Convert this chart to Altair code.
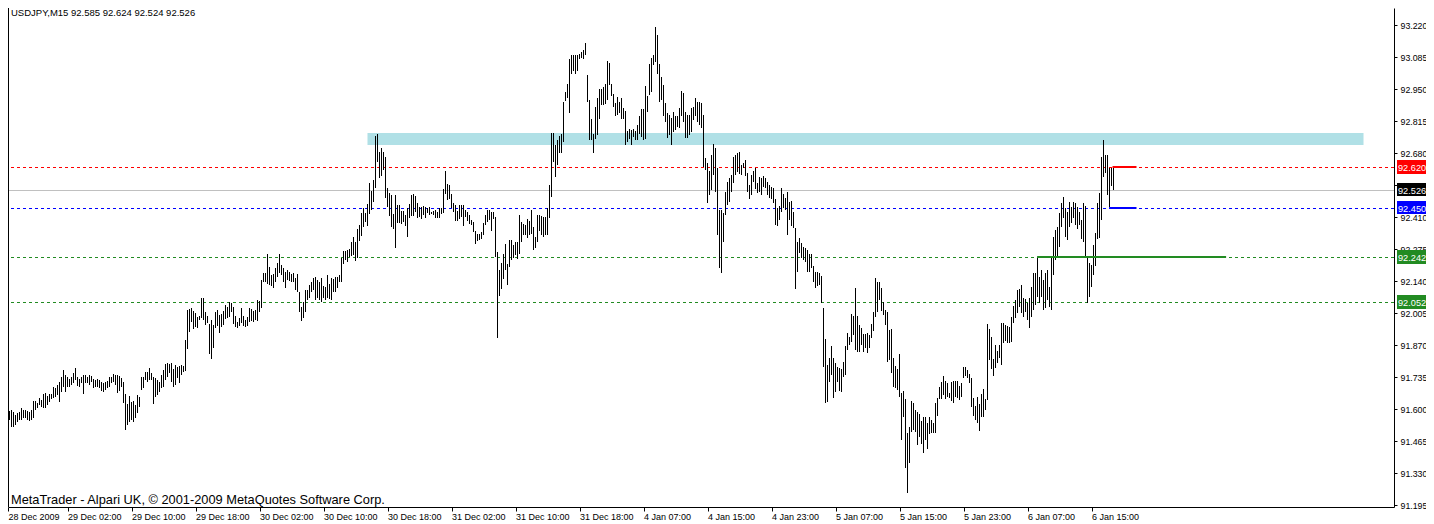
import altair as alt
import pandas as pd

# ---------------- data (USDJPY M15 bars, high/low) ----------------
HIGH_A = [
    91.586, 91.586, 91.589, 91.593, 91.596, 91.589, 91.575, 91.582, 91.589, 91.603,
    91.596, 91.596, 91.593, 91.589, 91.596, 91.634, 91.634, 91.624, 91.645, 91.638,
    91.663, 91.669, 91.655, 91.663, 91.663, 91.694, 91.687, 91.701, 91.715, 91.736,
    91.765, 91.743, 91.736, 91.725, 91.734, 91.750, 91.772, 91.736, 91.725, 91.736,
    91.743, 91.743, 91.736, 91.743, 91.739, 91.725, 91.722, 91.725, 91.722, 91.715,
    91.711, 91.715, 91.720, 91.734, 91.736, 91.748, 91.743, 91.743, 91.739, 91.729,
    91.715, 91.663, 91.621, 91.655, 91.631, 91.635, 91.617, 91.659, 91.652, 91.736,
    91.736, 91.758, 91.758, 91.773, 91.753, 91.736, 91.729, 91.722, 91.714, 91.743,
    91.765, 91.790, 91.795, 91.790, 91.793, 91.767, 91.786, 91.776, 91.781, 91.786,
    91.781, 91.891, 92.018, 92.020, 92.025, 92.012, 92.004, 91.987, 91.992, 92.067,
    92.067, 92.011, 91.992, 91.959, 91.975, 91.954, 92.011, 92.018, 91.997, 92.001, 92.015,
]
LOW_A = [
    91.547, 91.554, 91.556, 91.554, 91.523, 91.523, 91.533, 91.547, 91.554, 91.554,
    91.561, 91.561, 91.554, 91.551, 91.554, 91.561, 91.596, 91.603, 91.617, 91.610,
    91.603, 91.603, 91.617, 91.631, 91.641, 91.645, 91.652, 91.659, 91.631, 91.673,
    91.694, 91.673, 91.694, 91.694, 91.701, 91.711, 91.722, 91.697, 91.694, 91.708,
    91.663, 91.708, 91.708, 91.701, 91.715, 91.687, 91.694, 91.694, 91.687, 91.677,
    91.673, 91.680, 91.687, 91.694, 91.708, 91.715, 91.701, 91.666, 91.677, 91.694,
    91.624, 91.511, 91.533, 91.547, 91.554, 91.547, 91.561, 91.582, 91.610, 91.680,
    91.687, 91.722, 91.715, 91.722, 91.722, 91.621, 91.652, 91.659, 91.673, 91.687,
    91.694, 91.722, 91.736, 91.750, 91.715, 91.694, 91.701, 91.729, 91.708, 91.743,
    91.758, 91.762, 91.852, 91.926, 91.968, 91.936, 91.945, 91.940, 91.975, 91.983,
    91.975, 91.954, 91.964, 91.832, 91.810, 91.856, 91.940, 91.950, 91.922, 91.945, 91.954,
]

HIGH_B = [
    92.039, 92.032, 92.050, 92.046, 92.032, 91.994, 91.968, 91.982, 92.027, 91.994,
    91.975, 91.989, 92.025, 92.022, 92.013, 92.018, 92.060, 92.055, 92.144, 92.172,
    92.172, 92.252, 92.200, 92.165, 92.168, 92.193, 92.214, 92.252, 92.207, 92.193,
    92.179, 92.186, 92.179, 92.168, 92.172, 92.151, 92.168, 92.095, 92.032, 92.053,
    92.102, 92.102, 92.123, 92.134, 92.151, 92.158, 92.144, 92.137, 92.154, 92.117,
    92.116, 92.165, 92.126, 92.154, 92.148, 92.158, 92.158, 92.165, 92.238, 92.266,
    92.266, 92.271, 92.275, 92.306, 92.327, 92.306, 92.359, 92.376, 92.425, 92.446,
    92.425, 92.463, 92.552, 92.520, 92.566, 92.753, 92.760, 92.683, 92.702, 92.683,
    92.662, 92.534, 92.510, 92.503, 92.421, 92.503, 92.460, 92.460, 92.435, 92.435,
    92.418, 92.449, 92.463, 92.503, 92.505, 92.500, 92.467, 92.453, 92.453, 92.458,
    92.453, 92.449, 92.453, 92.430, 92.435, 92.439, 92.432, 92.446, 92.446, 92.528,
]
LOW_B = [
    91.980, 91.982, 91.989, 92.011, 91.957, 91.945, 91.940, 91.950, 91.961, 91.950,
    91.945, 91.950, 91.968, 91.971, 91.968, 91.975, 91.971, 92.011, 92.027, 92.134,
    92.134, 92.126, 92.123, 92.120, 92.109, 92.137, 92.158, 92.172, 92.165, 92.137,
    92.109, 92.144, 92.140, 92.134, 92.137, 92.102, 92.095, 92.011, 91.971, 91.982,
    92.008, 92.060, 92.067, 92.095, 92.102, 92.060, 92.067, 92.060, 92.053, 92.067,
    92.060, 92.067, 92.064, 92.060, 92.095, 92.095, 92.112, 92.137, 92.137, 92.210,
    92.228, 92.221, 92.243, 92.247, 92.250, 92.224, 92.238, 92.309, 92.331, 92.369,
    92.390, 92.373, 92.421, 92.439, 92.474, 92.534, 92.643, 92.576, 92.584, 92.608,
    92.491, 92.453, 92.416, 92.369, 92.359, 92.281, 92.383, 92.383, 92.379, 92.390,
    92.373, 92.327, 92.404, 92.416, 92.416, 92.432, 92.407, 92.411, 92.401, 92.418,
    92.404, 92.425, 92.418, 92.421, 92.418, 92.404, 92.407, 92.407, 92.421, 92.425,
]

HIGH_C = [
    92.603, 92.551, 92.544, 92.509, 92.467, 92.460, 92.434, 92.460, 92.462, 92.460,
    92.438, 92.431, 92.417, 92.396, 92.389, 92.350, 92.340, 92.340, 92.347, 92.386,
    92.420, 92.438, 92.438, 92.431, 92.431, 92.410, 92.263, 92.185, 92.218, 92.256,
    92.298, 92.213, 92.312, 92.312, 92.291, 92.305, 92.305, 92.420, 92.389, 92.382,
    92.378, 92.403, 92.392, 92.438, 92.368, 92.326, 92.417, 92.420, 92.415, 92.410,
    92.410, 92.446, 92.547, 92.765, 92.765, 92.713, 92.734, 92.752, 92.762, 92.896,
    92.938, 92.973, 93.078, 93.092, 93.092, 93.095, 93.092, 93.099, 93.106, 93.113,
    93.142, 93.008, 92.903, 92.825, 92.762, 92.874, 92.910, 92.952, 92.952, 92.959,
    92.973, 93.067, 93.061, 92.973, 92.931, 92.893, 92.917, 92.896, 92.910, 92.870,
    92.856, 92.772, 92.780, 92.776, 92.783, 92.772, 92.800, 92.836, 92.865, 92.865,
    92.963, 92.921, 93.057, 93.081, 93.095, 93.212, 93.177, 93.057, 93.001, 92.966,
]
LOW_C = [
    92.509, 92.481, 92.488, 92.446, 92.431, 92.392, 92.395, 92.403, 92.410, 92.372,
    92.410, 92.392, 92.382, 92.375, 92.347, 92.294, 92.308, 92.312, 92.319, 92.336,
    92.378, 92.389, 92.396, 92.350, 92.403, 92.242, 91.900, 92.077, 92.108, 92.150,
    92.185, 92.122, 92.199, 92.228, 92.237, 92.249, 92.232, 92.256, 92.305, 92.333,
    92.336, 92.322, 92.333, 92.340, 92.270, 92.280, 92.305, 92.350, 92.333, 92.326,
    92.333, 92.333, 92.406, 92.495, 92.642, 92.579, 92.628, 92.678, 92.682, 92.727,
    92.898, 92.910, 92.850, 93.015, 93.025, 93.015, 93.025, 93.078, 93.081, 93.078,
    93.092, 92.896, 92.734, 92.734, 92.682, 92.741, 92.755, 92.825, 92.881, 92.881,
    92.888, 92.903, 92.966, 92.921, 92.874, 92.836, 92.839, 92.850, 92.825, 92.825,
    92.713, 92.727, 92.738, 92.713, 92.748, 92.734, 92.734, 92.762, 92.748, 92.734,
    92.741, 92.853, 92.926, 92.938, 93.050, 93.064, 93.015, 92.896, 92.903, 92.836,
]

HIGH_D = [
    92.890, 92.848, 92.841, 92.827, 92.855, 92.834, 92.834, 92.869, 92.940, 92.935,
    92.855, 92.841, 92.841, 92.869, 92.876, 92.911, 92.897, 92.897, 92.890, 92.841,
    92.658, 92.637, 92.602, 92.672, 92.717, 92.700, 92.618, 92.440, 92.440, 92.426,
    92.517, 92.557, 92.573, 92.587, 92.665, 92.672, 92.679, 92.683, 92.630, 92.637,
    92.651, 92.595, 92.545, 92.588, 92.602, 92.618, 92.552, 92.580, 92.576, 92.585,
    92.573, 92.559, 92.545, 92.538, 92.531, 92.486, 92.447, 92.458, 92.534, 92.506,
    92.489, 92.514, 92.475, 92.478, 92.433, 92.365, 92.306, 92.323, 92.299, 92.285,
    92.278, 92.271, 92.253, 92.253, 92.205, 92.180, 92.180, 92.173, 92.159, 92.025,
    91.896, 91.786, 91.814, 91.867, 91.814, 91.793, 91.779, 91.775, 91.769, 91.800,
    91.867, 91.920, 91.905, 92.000, 91.994, 92.109, 91.994, 91.955, 91.941, 91.915,
    91.915, 91.920, 91.913, 91.957, 92.011, 92.152, 92.137, 92.137, 92.109, 92.053,
    92.018, 92.011, 91.934,
]
LOW_D = [
    92.812, 92.742, 92.756, 92.714, 92.770, 92.777, 92.791, 92.784, 92.834, 92.812,
    92.742, 92.742, 92.756, 92.770, 92.820, 92.834, 92.812, 92.798, 92.784, 92.623,
    92.609, 92.468, 92.503, 92.524, 92.588, 92.517, 92.334, 92.194, 92.173, 92.303,
    92.419, 92.461, 92.475, 92.517, 92.552, 92.588, 92.599, 92.590, 92.588, 92.616,
    92.585, 92.517, 92.486, 92.503, 92.557, 92.528, 92.510, 92.517, 92.503, 92.538,
    92.531, 92.503, 92.492, 92.486, 92.468, 92.377, 92.370, 92.398, 92.433, 92.447,
    92.440, 92.334, 92.398, 92.370, 92.365, 92.107, 92.180, 92.257, 92.236, 92.229,
    92.222, 92.180, 92.177, 92.194, 92.137, 92.112, 92.121, 92.123, 92.046, 91.779,
    91.624, 91.631, 91.716, 91.744, 91.645, 91.673, 91.716, 91.676, 91.673, 91.737,
    91.744, 91.849, 91.870, 91.884, 91.912, 91.849, 91.842, 91.842, 91.870, 91.842,
    91.856, 91.835, 91.856, 91.898, 91.927, 91.990, 92.011, 92.060, 92.014, 91.997,
    91.955, 91.800, 91.807,
]

HIGH_E = [
    91.936, 91.814, 91.781, 91.767, 91.832, 91.666, 91.677, 91.641, 91.497, 91.525,
    91.635, 91.624, 91.596, 91.589, 91.579, 91.551, 91.568, 91.565, 91.539, 91.565,
    91.554, 91.539, 91.627, 91.645, 91.691, 91.715, 91.739, 91.719, 91.711, 91.666,
    91.715, 91.719, 91.719, 91.719, 91.697, 91.708, 91.776, 91.776, 91.764, 91.748,
    91.729, 91.645, 91.613, 91.652, 91.621, 91.663, 91.683, 91.641, 91.959, 91.936,
    91.905, 91.809, 91.870, 91.846, 91.870, 91.961, 91.961, 91.954, 91.950, 91.947,
    91.989, 92.034, 92.060, 92.102, 92.105, 92.123, 92.067, 92.063, 92.046, 92.067,
    92.116, 92.172, 92.172, 92.236, 92.158, 92.186, 92.144, 92.172, 92.186, 92.116,
    92.236, 92.327, 92.355, 92.369, 92.425, 92.468, 92.496, 92.447, 92.432, 92.475,
    92.454, 92.475, 92.468, 92.454, 92.432, 92.397, 92.470, 92.456, 92.236, 92.214,
    92.207, 92.292, 92.341, 92.468, 92.510, 92.665, 92.735, 92.672, 92.672, 92.615,
    92.615, 92.624,
]
LOW_E = [
    91.750, 91.694, 91.687, 91.680, 91.652, 91.469, 91.568, 91.350, 91.244, 91.371,
    91.504, 91.511, 91.504, 91.448, 91.483, 91.452, 91.413, 91.469, 91.430, 91.494,
    91.500, 91.500, 91.500, 91.570, 91.641, 91.641, 91.659, 91.641, 91.652, 91.645,
    91.635, 91.624, 91.652, 91.645, 91.638, 91.652, 91.729, 91.739, 91.729, 91.708,
    91.607, 91.570, 91.554, 91.542, 91.508, 91.565, 91.565, 91.596, 91.638, 91.807,
    91.767, 91.739, 91.771, 91.793, 91.814, 91.786, 91.880, 91.888, 91.877, 91.880,
    91.884, 91.961, 91.982, 92.004, 92.032, 92.006, 91.989, 92.011, 91.975, 91.940,
    91.987, 92.018, 92.039, 92.074, 92.046, 92.074, 92.018, 92.025, 92.060, 92.032,
    92.018, 92.165, 92.229, 92.243, 92.285, 92.369, 92.404, 92.327, 92.313, 92.369,
    92.383, 92.404, 92.376, 92.358, 92.376, 92.316, 92.306, 92.236, 92.049, 92.074,
    92.116, 92.165, 92.203, 92.316, 92.320, 92.397, 92.580, 92.594, 92.503, 92.451,
    92.541, 92.524,
]

X_LABEL_BARS = [0, 32, 64, 96, 128, 160, 192, 224, 256, 288, 320, 352, 384, 416, 448, 480, 512, 544]
X_LABELS = ["28 Dec 2009", "29 Dec 02:00", "29 Dec 10:00", "29 Dec 18:00", "30 Dec 02:00",
            "30 Dec 10:00", "30 Dec 18:00", "31 Dec 02:00", "31 Dec 10:00", "31 Dec 18:00",
            "4 Jan 07:00", "4 Jan 15:00", "4 Jan 23:00", "5 Jan 07:00", "5 Jan 15:00",
            "5 Jan 23:00", "6 Jan 07:00", "6 Jan 15:00"]
Y_TICKS = [93.220, 93.085, 92.950, 92.815, 92.680, 92.545, 92.410, 92.275,
           92.140, 92.005, 91.870, 91.735, 91.600, 91.465, 91.330, 91.195]

LEVEL_PRICES = [92.620, 92.450, 92.242, 92.052]
LEVEL_COLORS = ["#FF0000", "#0000FF", "#228B22", "#228B22"]
BID_PRICE = [92.526]

SEG_PRICES = [92.620, 92.450, 92.242]
SEG_START = [554.5, 552.8, 516.8]
SEG_END = [566.5, 566.5, 611.3]
SEG_COLORS = ["#FF0000", "#0000FF", "#228B22"]

ZONE_START = [182]
ZONE_END = [680]
ZONE_LOW = [92.714]
ZONE_HIGH = [92.763]

TAG_PRICES = [92.620, 92.526, 92.450, 92.242, 92.052]
TAG_COLORS = ["#FF0000", "#000000", "#0000FF", "#228B22", "#228B22"]

HEADER = ["USDJPY,M15  92.585 92.624 92.524 92.526"]
FOOTER = ["MetaTrader - Alpari UK, \u00a9 2001-2009 MetaQuotes Software Corp."]

# ---------------- tables ----------------
highs = HIGH_A + HIGH_B + HIGH_C + HIGH_D + HIGH_E
lows = LOW_A + LOW_B + LOW_C + LOW_D + LOW_E
n = min(len(highs), len(lows))
bars = pd.DataFrame({"k": list(range(n)), "high": highs[:n], "low": lows[:n]})
levels = pd.DataFrame({"price": LEVEL_PRICES, "color": LEVEL_COLORS})
bid = pd.DataFrame({"price": BID_PRICE})
segs = pd.DataFrame({"price": SEG_PRICES, "k0": SEG_START, "k1": SEG_END, "color": SEG_COLORS})
zone = pd.DataFrame({"k0": ZONE_START, "k1": ZONE_END, "lo": ZONE_LOW, "hi": ZONE_HIGH})
tags = pd.DataFrame({"price": TAG_PRICES, "color": TAG_COLORS,
                     "label": [f"{p:.3f}" for p in TAG_PRICES]})

W, H = 1386, 499
PAD_R = 32
FONT = "Liberation Sans"
X0 = 2.25  # first visible bar index offset (chart scrolled like the terminal window)

xs = alt.Scale(domain=[X0, X0 + W / 2], nice=False, zero=False, padding=0)
ys = alt.Scale(domain=[91.18656, 93.29172], nice=False, zero=False, round=True, padding=0)

# keep the first tick inside the visible range so its label is drawn
axis_vals = [max(v, X0) for v in X_LABEL_BARS]
label_expr = "[" + ",".join(f"'{s}'" for s in X_LABELS) + "][round(datum.value / 32)]"

x_axis = alt.Axis(values=axis_vals, labelExpr=label_expr, orient="bottom", title=None,
                  grid=False, domainColor="black", domainWidth=1, tickColor="black",
                  tickSize=4, tickWidth=1, labelFont=FONT, labelFontSize=9,
                  labelColor="black", labelAlign="left", labelBaseline="top",
                  labelPadding=1, labelOverlap=False, labelFlush=False, zindex=0)
y_axis = alt.Axis(orient="right", values=Y_TICKS, format=".3f", title=None, grid=False,
                  domainColor="black", domainWidth=1, tickColor="black", tickSize=3,
                  tickWidth=1, labelPadding=3, labelFont=FONT, labelFontSize=8.8,
                  labelColor="black", labelOverlap=False, labelFlush=False, zindex=0)

zone_layer = alt.Chart(zone).mark_rect(color="#B0E0E6").encode(
    x=alt.X("k0:Q", scale=xs, axis=x_axis), x2="k1:Q",
    y=alt.Y("hi:Q", scale=ys, axis=y_axis), y2="lo:Q")

level_layer = alt.Chart(levels).mark_rule(strokeDash=[3, 3], strokeWidth=1, yOffset=0.5).encode(
    y=alt.Y("price:Q", scale=ys, axis=y_axis),
    color=alt.Color("color:N", scale=None))

bid_layer = alt.Chart(bid).mark_rule(color="#C0C0C0", strokeWidth=1, yOffset=0.5).encode(
    y=alt.Y("price:Q", scale=ys, axis=y_axis))

bar_layer = alt.Chart(bars).mark_rule(color="black", strokeWidth=1, clip=True).encode(
    x=alt.X("k:Q", scale=xs, axis=x_axis),
    y=alt.Y("high:Q", scale=ys, axis=y_axis),
    y2="low:Q")

seg_layer = alt.Chart(segs).mark_rule(strokeWidth=2).encode(
    x=alt.X("k0:Q", scale=xs, axis=x_axis), x2="k1:Q",
    y=alt.Y("price:Q", scale=ys, axis=y_axis),
    color=alt.Color("color:N", scale=None))

tag_box = alt.Chart(tags).transform_calculate(
    top="datum.price + 0.0285", bot="datum.price - 0.0285"
).mark_rect().encode(
    x=alt.value(W + 3), x2=alt.value(W + PAD_R),
    y=alt.Y("top:Q", scale=ys, axis=y_axis), y2="bot:Q",
    color=alt.Color("color:N", scale=None))

tag_text = alt.Chart(tags).mark_text(align="left", baseline="middle", font=FONT,
                                     fontSize=9.2, color="white", yOffset=0.5).encode(
    x=alt.value(W + 4),
    y=alt.Y("price:Q", scale=ys, axis=y_axis),
    text="label:N")

left_border = alt.Chart(pd.DataFrame({"a": [0]})).mark_rule(color="black", strokeWidth=1).encode(
    x=alt.value(0.5), y=alt.value(0), y2=alt.value(H))

header = alt.Chart(pd.DataFrame({"t": HEADER})).mark_text(
    align="left", baseline="top", font=FONT, fontSize=9.5, color="black").encode(
    x=alt.value(3), y=alt.value(0), text="t:N")

footer = alt.Chart(pd.DataFrame({"t": FOOTER})).mark_text(
    align="left", baseline="middle", font=FONT, fontSize=12.8, color="black").encode(
    x=alt.value(3), y=alt.value(H - 7), text="t:N")

chart = alt.layer(
    zone_layer, level_layer, bid_layer, bar_layer, seg_layer,
    tag_box, tag_text, left_border, header, footer
).properties(
    width=W, height=H,
    autosize=alt.AutoSizeParams(type="none"),
    padding={"left": 0, "top": 0, "right": PAD_R, "bottom": 17},
    background="white",
).configure_view(stroke=None)

chart.save("out.html", embed_options={"renderer": "svg", "actions": False})
